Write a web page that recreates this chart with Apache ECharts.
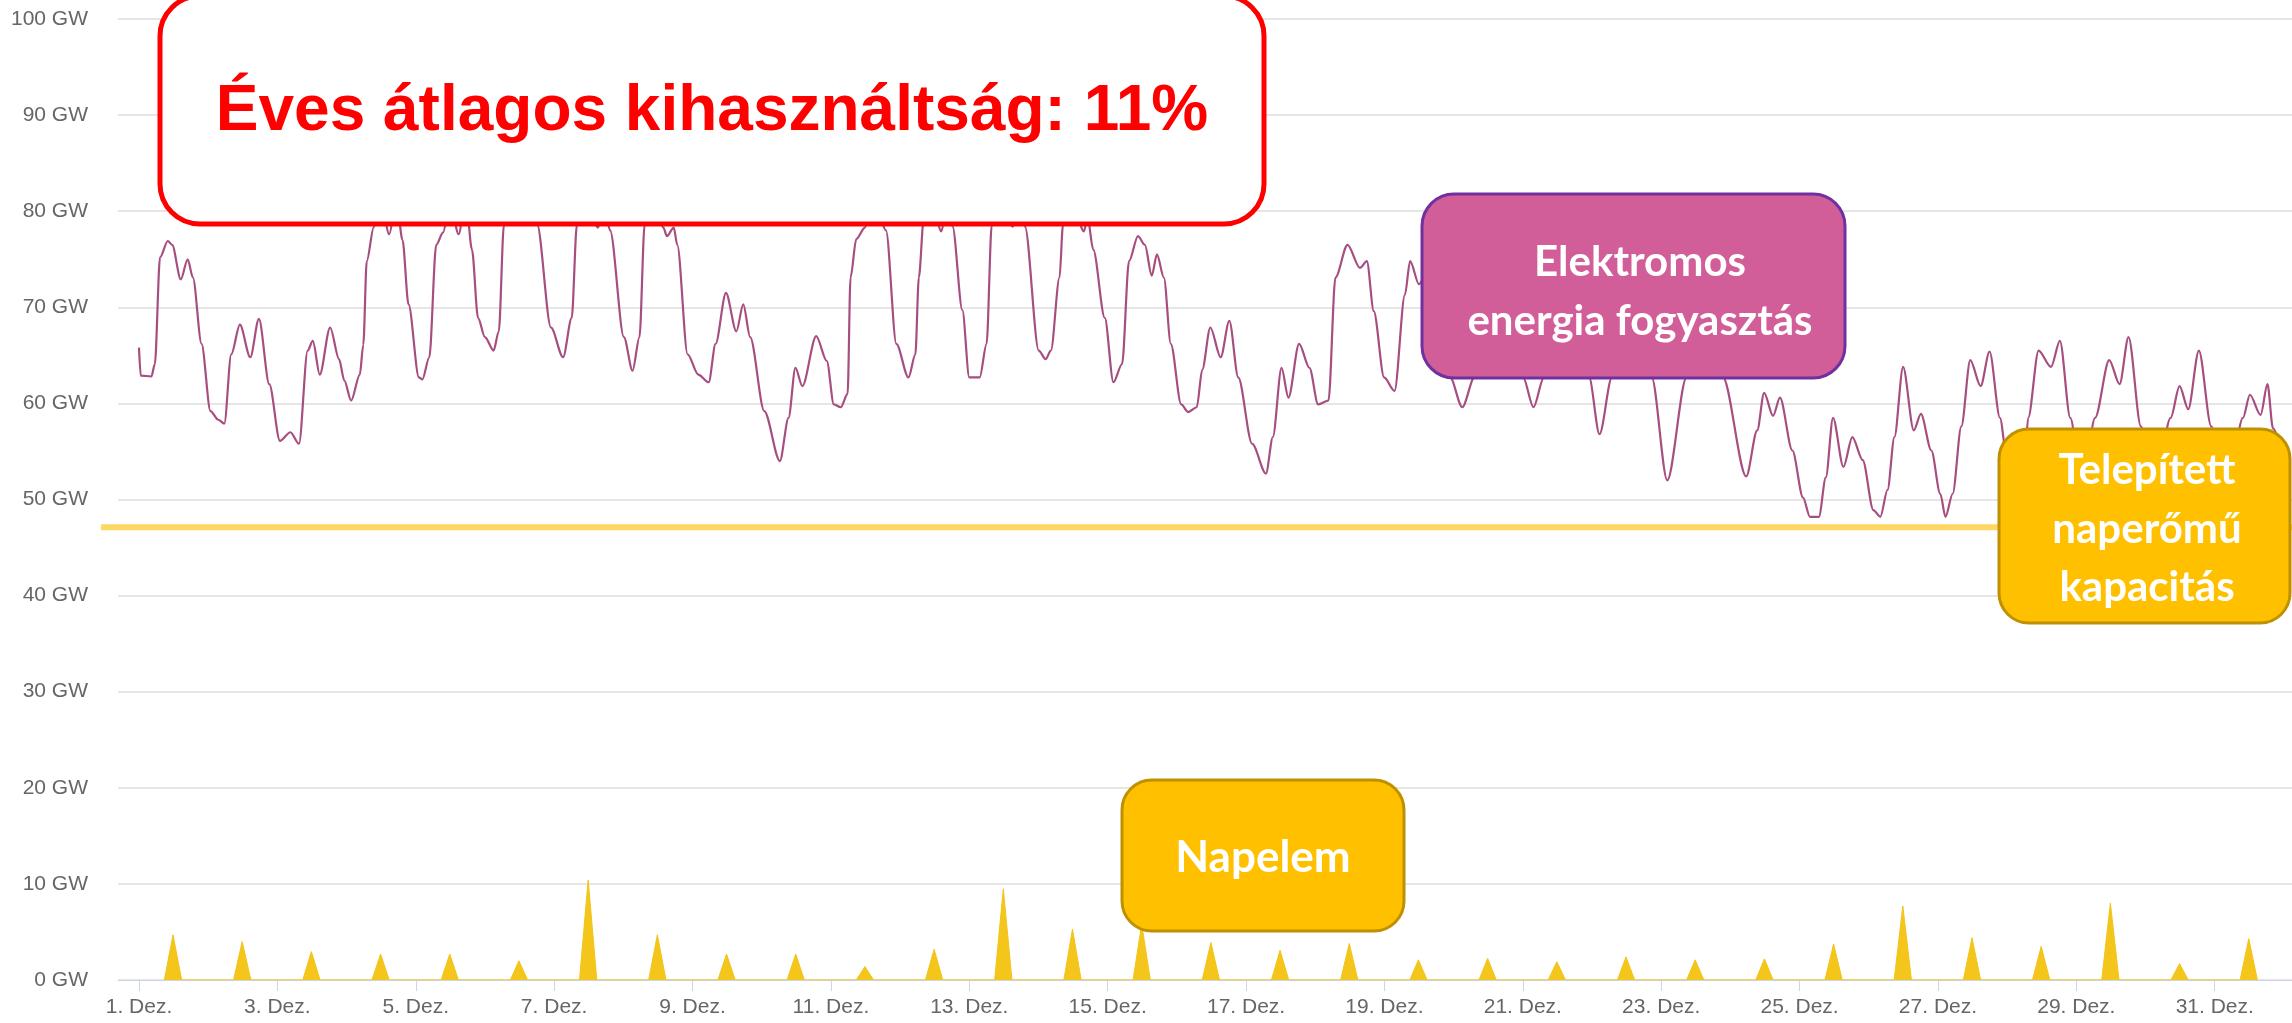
<!DOCTYPE html>
<html>
<head>
<meta charset="utf-8">
<script src="https://cdn.jsdelivr.net/npm/echarts@6/dist/echarts.min.js"></script>
<style>
html,body{margin:0;padding:0;background:#fff;}
#chart{width:2292px;height:1023px;}
</style>
</head>
<body>
<div id="chart"></div>
<script>
// ---- data (hours since 1. Dez. 00:00, GW) ----
const loadHours = [0,0.6,4.3,5.5,7.3,10.0,11.5,14.5,16.9,18.7,21.7,24.8,27.5,29.6,32.0,35.0,38.6,41.6,45.2,48.9,52.5,55.5,58.5,60.3,62.7,66.3,69.4,71.2,73.6,76.6,77.8,79.0,81.4,83.6,86.8,89.3,91.4,93.5,97.1,98.3,100.7,103.1,105.5,107.8,110.9,113.3,115.5,117.6,120.0,123.0,124.8,126.6,129.5,133.5,136.0,138.1,142.9,147.1,150.1,151.9,155.0,159.2,161.3,163.4,168.2,171.2,173.6,175.4,178.3,181.9,183.1,185.5,186.7,190.3,194.0,197.6,200.0,203.6,207.2,209.6,212.0,216.9,222.3,225.3,227.7,230.1,234.9,238.6,241.0,243.4,245.8,246.8,248.8,251.8,254.0,256.5,259.1,262.7,266.9,269.3,270.5,272.2,274.6,278.3,280.4,282.2,285.6,288.0,291.6,294.0,295.8,298.6,303.1,305.3,307.3,312.1,314.5,316.3,319.3,320.5,323.2,327.8,329.0,331.0,335.0,338.0,341.0,343.4,346.5,348.9,351.3,353.1,355.5,357.9,361.5,363.9,366.9,368.8,371.6,375.2,378.2,381.3,386.1,390.9,393.3,396.3,398.7,402.4,406.0,409.0,412.6,415.0,419.2,423.5,425.9,428.3,431.9,435.5,439.1,440.9,444.0,447.0,451.0,454.8,459.0,463.2,466.0,469.0,472.0,477.0,480.1,483.7,487.3,490.0,494.0,497.0,503.0,506.6,510.9,514.0,517.0,520.0,524.7,530.1,536.8,541.0,545.0,547.0,549.4,557.5,561.3,563.7,566.8,569.2,573.5,577.2,579.6,582.7,585.1,587.6,591.2,594.3,597.9,601.6,604.0,606.5,608.9,611.9,615.6,618.1,621.7,624.8,626.6,629.1,632.1,635.2,638.8,641.9,645.5,648.0,651.0,654.0,655.3,658.9,663.2,666.3,669.9,674.0,678.5,683.4,687.0,690.1,694.4,699.0,704.7,707.8,710.8,714.5,718.8,724.0,729.8,732.2,735.9,738.3,740.2,744.0];
const loadGW = [65.8,62.9,62.8,64.1,75.2,76.9,76.5,72.9,75.0,73.1,66.2,59.2,58.3,57.9,65.1,68.2,64.8,68.8,62.0,56.1,57.0,55.8,65.5,66.5,63.0,67.9,64.6,62.4,60.3,63.0,66.1,74.8,78.3,81.8,77.6,81.2,77.0,70.3,62.7,62.5,64.8,76.5,77.8,81.0,77.6,81.5,76.0,68.9,66.9,65.5,67.5,78.6,82.3,80.4,81.6,78.6,67.9,64.8,68.9,78.6,82.0,78.3,80.6,78.0,66.9,63.4,66.9,78.6,81.4,78.3,77.4,78.3,76.5,65.1,63.0,62.2,66.2,71.5,67.5,70.3,66.9,59.2,54.0,58.5,63.7,61.8,67.0,64.4,59.9,59.6,61.0,73.1,77.1,78.3,80.8,79.6,78.0,66.2,62.7,65.1,73.1,79.2,82.0,77.9,81.0,78.4,69.7,62.7,62.7,66.2,78.6,82.2,78.4,81.0,78.4,65.5,64.6,65.5,73.1,78.6,81.6,77.9,79.4,76.0,68.9,62.2,64.1,74.8,77.4,76.5,73.3,75.5,73.1,66.2,59.9,59.1,59.6,63.5,67.9,64.8,68.6,62.7,55.8,52.7,56.5,63.7,60.6,66.2,63.7,59.9,60.3,73.1,76.5,74.1,74.8,69.6,62.7,61.3,71.3,74.8,72.4,74.0,68.0,62.7,59.6,62.7,73.0,71.0,73.0,66.0,62.7,59.6,62.7,72.0,70.0,72.0,62.7,56.8,62.7,70.0,68.5,70.0,62.7,52.0,62.7,65.0,63.5,64.5,62.7,52.4,57.2,61.1,58.7,60.6,55.1,50.2,48.2,48.2,52.3,58.5,53.4,56.5,54.1,48.9,48.2,51.0,56.5,63.8,57.2,58.9,55.1,50.6,48.2,50.6,57.6,64.5,61.8,65.4,58.5,54.0,51.0,54.0,58.5,65.5,63.8,66.5,58.5,51.0,58.5,64.5,62.0,66.9,57.6,50.5,58.5,61.8,59.4,65.5,57.6,50.0,58.5,60.9,58.8,62.0,57.4,54.0];
// daily solar peak (GW), 1.-31. Dez.
const solarPeaks = [4.7,4.0,2.95,2.7,2.7,2.0,10.4,4.7,2.7,2.7,1.4,3.2,9.5,5.3,5.8,3.9,3.1,3.8,2.1,2.25,1.9,2.4,2.1,2.2,3.75,7.7,4.4,3.5,8.0,1.7,4.3];
const SUNRISE_H = 8.8, SOLAR_NOON_H = 11.8, SUNSET_H = 14.8;
const installedCapacityGW = 47.1;
const tickDays = [1,3,5,7,9,11,13,15,17,19,21,23,25,27,29,31];
const tickLabels = ['1. Dez.','3. Dez.','5. Dez.','7. Dez.','9. Dez.','11. Dez.','13. Dez.','15. Dez.','17. Dez.','19. Dez.','21. Dez.','23. Dez.','25. Dez.','27. Dez.','29. Dez.','31. Dez.'];
const yTicks = [0,10,20,30,40,50,60,70,80,90,100];

// ---- build series data ----
const loadData = loadHours.map((h, i) => [h, loadGW[i]]);
const solarData = [];
solarPeaks.forEach((p, d) => {
  solarData.push([d * 24 + SUNRISE_H, 0]);
  solarData.push([d * 24 + SOLAR_NOON_H, p]);
  solarData.push([d * 24 + SUNSET_H, 0]);
});
const tickHours = tickDays.map(d => (d - 1) * 24);

const chart = echarts.init(document.getElementById('chart'), null, {renderer: 'canvas'});
const labelFont = '"Liberation Sans", Arial, sans-serif';
const boxFont = 'Lato, "Noto Sans", sans-serif';

chart.setOption({
  animation: false,
  backgroundColor: '#ffffff',
  grid: [
    {left: 118, right: 0, top: 19, bottom: 43},
    {left: 101, right: 0, top: 19, bottom: 43}
  ],
  xAxis: [
    {
      type: 'value', gridIndex: 0, min: -7.28, max: 746.8,
      splitLine: {show: false},
      axisLine: {show: true, lineStyle: {color: '#ccd6eb', width: 1}},
      axisTick: {show: true, length: 11, lineStyle: {color: '#ccd6eb'}, customValues: tickHours},
      axisLabel: {
        show: true, margin: 17, color: '#666666', fontSize: 21, fontFamily: labelFont,
        customValues: tickHours,
        formatter: v => tickLabels[tickHours.indexOf(v)] || ''
      }
    },
    {type: 'value', gridIndex: 1, min: 0, max: 1, show: false}
  ],
  yAxis: [
    {
      type: 'value', gridIndex: 0, min: 0, max: 100, interval: 10,
      axisLine: {show: false}, axisTick: {show: false},
      splitLine: {show: true, lineStyle: {color: '#e6e6e6', width: 2}},
      axisLabel: {
        margin: 30, color: '#666666', fontSize: 21, fontFamily: labelFont,
        formatter: v => yTicks.includes(v) ? v + ' GW' : ''
      }
    },
    {type: 'value', gridIndex: 1, min: 0, max: 100, show: false}
  ],
  series: [
    {
      name: 'Telepített naperőmű kapacitás', type: 'line', xAxisIndex: 1, yAxisIndex: 1,
      data: [[0, installedCapacityGW], [1, installedCapacityGW]],
      showSymbol: false, silent: true, z: 1,
      lineStyle: {color: '#FDD663', width: 6}
    },
    {
      name: 'Napelem', type: 'line', xAxisIndex: 0, yAxisIndex: 0,
      data: solarData, showSymbol: false, z: 2,
      lineStyle: {color: '#F2C318', width: 1},
      areaStyle: {color: '#F4C61C', opacity: 1}
    },
    {
      name: 'Elektromos energia fogyasztás', type: 'line', xAxisIndex: 0, yAxisIndex: 0,
      data: loadData, showSymbol: false, z: 3,
      smooth: 0.3, smoothMonotone: 'x',
      lineStyle: {color: '#a64e80', width: 2.2}
    }
  ],
  graphic: {
    elements: [
      {type: 'rect', z: 100, shape: {x: 160, y: -4, width: 1104, height: 228, r: 40},
       style: {fill: '#ffffff', stroke: '#ff0000', lineWidth: 5}},
      {type: 'text', z: 101, x: 712, y: 112,
       style: {text: 'Éves átlagos kihasználtság: 11%', font: 'bold 64px "Liberation Sans", Arial, sans-serif',
               fill: '#ff0000', align: 'center', verticalAlign: 'middle'}},

      {type: 'rect', z: 100, shape: {x: 1422, y: 194, width: 423, height: 184, r: 32},
       style: {fill: '#D15E98', stroke: '#7030A0', lineWidth: 3}},
      {type: 'text', z: 101, x: 1640, y: 292,
       style: {text: 'Elektromos\nenergia fogyasztás', font: 'bold 42px ' + boxFont, lineHeight: 59,
               fill: '#ffffff', align: 'center', verticalAlign: 'middle'}},

      {type: 'rect', z: 100, shape: {x: 1122, y: 780, width: 282, height: 151, r: 30},
       style: {fill: '#FFC000', stroke: '#BF9000', lineWidth: 3}},
      {type: 'text', z: 101, x: 1263, y: 858,
       style: {text: 'Napelem', font: 'bold 44px ' + boxFont,
               fill: '#ffffff', align: 'center', verticalAlign: 'middle'}},

      {type: 'rect', z: 100, shape: {x: 1999, y: 429, width: 291, height: 194, r: 30},
       style: {fill: '#FFC000', stroke: '#BF9000', lineWidth: 3}},
      {type: 'text', z: 101, x: 2147, y: 529,
       style: {text: 'Telepített\nnaperőmű\nkapacitás', font: 'bold 42px ' + boxFont, lineHeight: 58.5,
               fill: '#ffffff', align: 'center', verticalAlign: 'middle'}}
    ]
  }
});
</script>
</body>
</html>
